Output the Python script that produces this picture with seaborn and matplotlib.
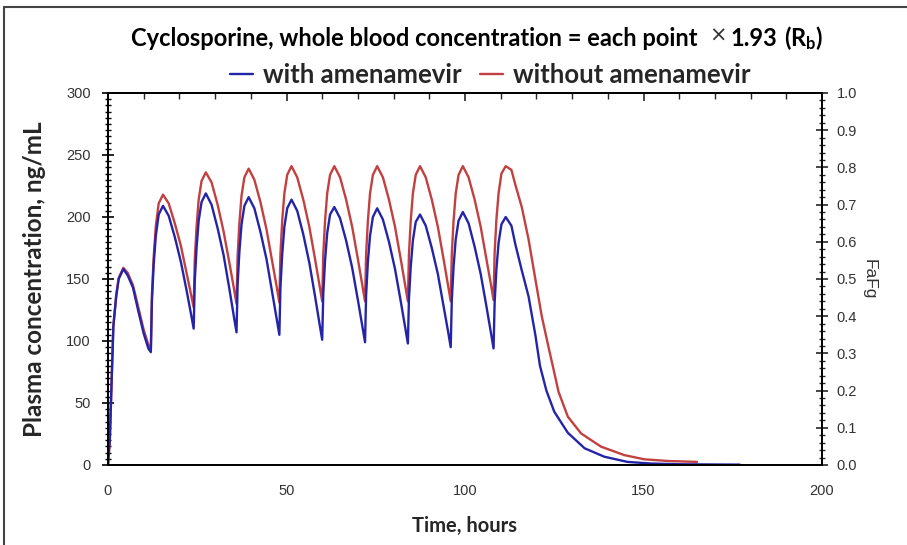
import matplotlib
matplotlib.use("Agg")
import numpy as np
import pandas as pd
import matplotlib.pyplot as plt
import seaborn as sns
from matplotlib.ticker import MultipleLocator
from matplotlib.lines import Line2D

# ---------------- data ----------------
series_names = ["with amenamevir", "without amenamevir"]
series_colors = ["#2424a8", "#c24040"]

# time points during the dosing period (hours)
t_dosing = [0, 0.5, 1, 1.5, 2.3, 3, 4.3, 5.5, 7, 8.5, 10, 11.3,
            12, 12.3, 12.8, 13.4, 14.2, 15.4, 17, 18.7, 20.4, 22, 23.3,
            24, 24.3, 24.8, 25.4, 26.2, 27.4, 29, 30.7, 32.4, 34, 35.3,
            36, 36.3, 36.8, 37.4, 38.2, 39.4, 41, 42.7, 44.4, 46, 47.3,
            48, 48.3, 48.8, 49.4, 50.2, 51.4, 53, 54.7, 56.4, 58, 59.3,
            60, 60.3, 60.8, 61.4, 62.2, 63.4, 65, 66.7, 68.4, 70, 71.3,
            72, 72.3, 72.8, 73.4, 74.2, 75.4, 77, 78.7, 80.4, 82, 83.3,
            84, 84.3, 84.8, 85.4, 86.2, 87.4, 89, 90.7, 92.4, 94, 95.3,
            96, 96.3, 96.8, 97.4, 98.2, 99.4, 101, 102.7, 104.4, 106, 107.3,
            108, 108.3, 108.8, 109.4, 110.2, 111.4]

conc_with_dosing = [0, 20, 66, 112, 136, 150, 158, 153, 143, 124, 106, 94,
                    91, 132, 162, 185, 202, 209, 201, 184, 164, 141, 121,
                    110, 148, 175, 197, 212, 219, 210, 191, 169, 142, 119,
                    107, 145, 172, 194, 209, 216, 207, 188, 166, 139, 117,
                    105, 143, 170, 192, 207, 214, 205, 186, 163, 136, 113,
                    101, 138, 165, 187, 202, 208, 199, 181, 159, 133, 111,
                    99, 137, 164, 185, 200, 207, 198, 180, 158, 132, 110,
                    98, 134, 160, 181, 196, 202, 193, 175, 154, 128, 107,
                    95, 133, 160, 182, 197, 204, 195, 176, 154, 128, 106,
                    94, 131, 158, 179, 194, 200]

conc_without_dosing = [0, 20, 66, 112, 137, 151, 159, 155, 145, 127, 109, 97,
                       94, 137, 168, 193, 211, 218, 211, 195, 177, 155, 137,
                       127, 165, 192, 214, 229, 236, 228, 210, 188, 163, 142,
                       130, 168, 195, 217, 232, 239, 230, 212, 190, 164, 143,
                       131, 170, 197, 219, 234, 241, 232, 214, 192, 166, 144,
                       132, 170, 197, 219, 234, 241, 232, 214, 192, 166, 144,
                       132, 170, 197, 219, 234, 241, 232, 214, 192, 166, 144,
                       132, 170, 197, 219, 234, 241, 232, 214, 192, 166, 144,
                       132, 170, 197, 219, 234, 241, 232, 214, 192, 166, 145,
                       133, 171, 198, 219, 235, 241]

# elimination tails after the last dose
t_tail_with = [113, 114.1, 115.9, 117.8, 119.7, 121, 122.8, 125, 128.8,
               133.5, 139, 145.5, 152, 160, 170, 177]
conc_tail_with = [193, 178, 157, 136, 105, 80, 60, 43, 26,
                  13.5, 6.7, 2.5, 1.2, 0.6, 0.4, 0.3]

t_tail_without = [113, 114.1, 115.9, 117.8, 119.7, 121.5, 123.4, 125.2, 126.2,
                  128.8, 132.5, 138.1, 144.6, 150.2, 157, 165]
conc_tail_without = [238, 226, 208, 182, 150, 120, 95, 72, 59,
                     39, 25.5, 14.8, 8, 4.6, 3.2, 2.5]

x_ticks = [0, 50, 100, 150, 200]
y_ticks = [0, 50, 100, 150, 200, 250, 300]
y2_ticks = [0.0, 0.1, 0.2, 0.3, 0.4, 0.5, 0.6, 0.7, 0.8, 0.9, 1.0]

title_parts = ["Cyclosporine, whole blood concentration = each point", "\u00d7",
               "1.93", r"(R$_\mathregular{b}$)"]
xlabel = "Time, hours"
ylabel = "Plasma concentration, ng/mL"
y2label = "FaFg"

# ---------------- build long-form table ----------------
df = pd.concat([
    pd.DataFrame({"time": t_dosing + t_tail_with,
                  "conc": conc_with_dosing + conc_tail_with,
                  "series": series_names[0]}),
    pd.DataFrame({"time": t_dosing + t_tail_without,
                  "conc": conc_without_dosing + conc_tail_without,
                  "series": series_names[1]}),
], ignore_index=True)

sns.set_theme(style="white")
plt.rcParams['font.family'] = ['Liberation Sans', 'DejaVu Sans']
plt.rcParams['mathtext.fontset'] = 'custom'
plt.rcParams['mathtext.rm'] = 'Lato:bold'
plt.rcParams['mathtext.it'] = 'Lato:bold'

W, H = 907, 545
fig = plt.figure(figsize=(W / 100, H / 100), dpi=100)
ax = fig.add_axes([108 / W, 1 - 465 / H, (822 - 108) / W, (465 - 93) / H])

palette = dict(zip(series_names, series_colors))
sns.lineplot(data=df, x="time", y="conc", hue="series",
             hue_order=[series_names[1], series_names[0]],
             palette=palette, estimator=None, sort=False,
             linewidth=1.7, legend=False, ax=ax)

ax.set_xlim(0, 200)
ax.set_ylim(0, 300)
ax.set_xticks(x_ticks)
ax.set_yticks(y_ticks)
ax.xaxis.set_minor_locator(MultipleLocator(10))
ax.yaxis.set_minor_locator(MultipleLocator(5))
ax.tick_params(axis='both', which='major', direction='inout', length=9, width=1.2,
               colors='black', labelcolor='#333333', labelsize=10.5)
ax.tick_params(axis='both', which='minor', direction='inout', length=5, width=1.0,
               colors='black')
ax.tick_params(axis='x', which='major', pad=9)
ax.tick_params(axis='y', which='major', pad=8)
for s in ax.spines.values():
    s.set_color('black')
    s.set_linewidth(1.3)

ax.set_xlabel(xlabel, family='Lato', fontweight='bold', fontsize=14.5, labelpad=13)
ax.set_ylabel(ylabel, family='Lato', fontweight='bold', fontsize=17.5, labelpad=10)
ax.yaxis.set_label_coords(-(108 - 46) / (822 - 108), 0.5)

# top tick marks
secx = ax.secondary_xaxis('top')
secx.set_xticks(x_ticks)
secx.xaxis.set_minor_locator(MultipleLocator(10))
secx.tick_params(which='major', direction='in', length=6, width=1.2, labeltop=False)
secx.tick_params(which='minor', direction='in', length=4, width=1.0)

# right axis FaFg
ax2 = ax.twinx()
ax2.set_ylim(0, 1)
ax2.set_yticks(y2_ticks)
ax2.set_yticklabels([f"{v:.1f}" for v in y2_ticks])
ax2.yaxis.set_minor_locator(MultipleLocator(0.02))
ax2.tick_params(which='major', direction='inout', length=9, width=1.2,
                labelcolor='#333333', labelsize=10.5, pad=6)
ax2.tick_params(which='minor', direction='inout', length=5, width=1.0)
ax2.set_ylabel(y2label, rotation=270, fontsize=12.5, labelpad=14, color='#333333')
for s in ax2.spines.values():
    s.set_color('black')
    s.set_linewidth(1.3)

# title, built piece by piece
renderer = fig.canvas.get_renderer()
ty = 1 - 38 / H
styles = [dict(family='Lato', fontweight='bold', fontsize=17, color='black'),
          dict(family='DejaVu Sans', fontweight='normal', fontsize=15, color='#333333'),
          dict(family='Lato', fontweight='bold', fontsize=17, color='black'),
          dict(family='Lato', fontweight='bold', fontsize=17, color='black')]
gaps = [0, 12, 4, 6]
texts = []
x_px = 0
for part, st, g in zip(title_parts, styles, gaps):
    x_px += g
    t = fig.text(x_px / W, ty, part, ha='left', va='center', **st)
    bb = t.get_window_extent(renderer)
    x_px += bb.width
    texts.append(t)
shift = (477 - x_px / 2)
for t in texts:
    x0, y0 = t.get_position()
    t.set_position((x0 + shift / W, y0))
texts[1].set_position((texts[1].get_position()[0], ty + 2 / H))

# legend
handles = [Line2D([], [], color=c, linewidth=1.7) for c in series_colors]
leg = fig.legend(handles, series_names, loc='center', ncol=2,
                 bbox_to_anchor=(490 / W, 1 - 75 / H), frameon=False,
                 handlelength=0.9, handletextpad=0.4, columnspacing=0.7,
                 prop=dict(family='Lato', weight='bold', size=18.5))

# outer frame (top and left edges visible in reference)
fig.add_artist(Line2D([4 / W, 1.0], [1 - 7 / H, 1 - 7 / H],
                      transform=fig.transFigure, color='#444444', linewidth=1.5))
fig.add_artist(Line2D([4 / W, 4 / W], [0.0, 1 - 7 / H],
                      transform=fig.transFigure, color='#444444', linewidth=1.5))

fig.savefig("out.png", dpi=100)
